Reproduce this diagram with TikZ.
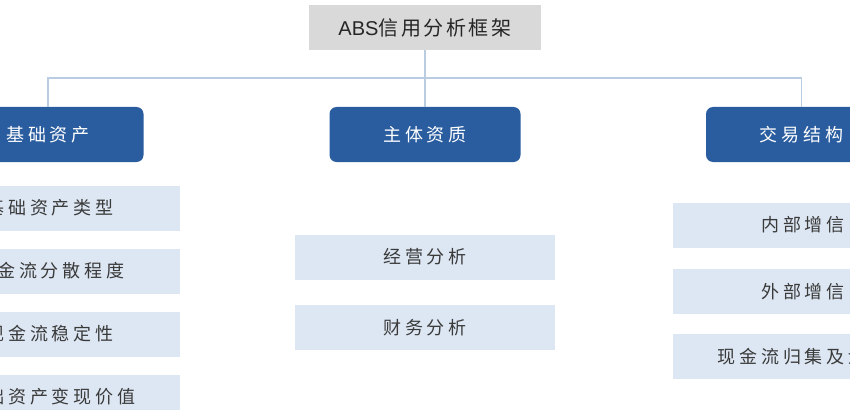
\documentclass[tikz,border=0pt]{standalone}
\usepackage{fontspec}
\setmainfont{Liberation Sans}
\newfontfamily\cjk[LetterSpace=22]{Noto Sans CJK SC}
\newfontfamily\cjktitle[LetterSpace=13]{Noto Sans CJK SC}
\usepackage{xcolor}
\usepackage{tikz}
\usetikzlibrary{positioning,calc}

\definecolor{headgray}{HTML}{D9D9D9}
\definecolor{mainblue}{HTML}{2A5D9F}
\definecolor{subblue}{HTML}{DDE7F3}
\definecolor{linkblue}{HTML}{B9CCE1}
\definecolor{textgray}{HTML}{3A3A3A}

\begin{document}
\begin{tikzpicture}[
    % GLOBAL CFG
    x=1pt, y=-1pt,
    % Styles
    head/.style={% For the title box
        rectangle,
        fill=headgray,
        minimum width=232pt,
        minimum height=45pt,
        inner sep=0pt,
        text=black!85,
        font=\fontsize{20}{22}\selectfont,
        },
    branch/.style={% For the three blue boxes
        rectangle,
        rounded corners=7pt,
        fill=mainblue,
        minimum width=191pt,
        minimum height=55pt,
        inner sep=0pt,
        text=white,
        font=\cjk\fontsize{18}{20}\selectfont,
        },
    leaf/.style={% For the light items
        rectangle,
        fill=subblue,
        minimum width=260pt,
        minimum height=45pt,
        inner sep=0pt,
        text=textgray,
        font=\cjk\fontsize{18}{20}\selectfont,
        },
    link/.style={% Connectors
        draw=linkblue,
        line width=1.5pt,
        },
    ]

    % Frame of the picture
    \useasboundingbox (0,0) rectangle (850,409);
    \clip (0,0) rectangle (850,409);
    \fill[white] (0,0) rectangle (850,409);

    % Title
    \node [head] (abs) at (425,27.5) {ABS{\cjktitle 信用分析框架}};

    % Branches
    \node [branch] (jczc) at (48,134.5) {基础资产};
    \node [branch] (ztzz) at (425,134.5) {主体资质};
    \node [branch] (jyjg) at (801.5,134.5) {交易结构};

    % Connectors
    \coordinate (bus) at (425,78);
    \draw [link] (abs) -- (ztzz);
    \draw [link] (jczc.north) |- (bus) -| (jyjg.north);

    % Items under the first branch
    \node [leaf] (a1) at (50,208) {基础资产类型};
    \node [leaf] (a2) at (50,271) {现金流分散程度};
    \node [leaf] (a3) at (50,334) {现金流稳定性};
    \node [leaf] (a4) at (50,397) {基础资产变现价值};

    % Items under the second branch
    \node [leaf] (b1) at (425,257) {经营分析};
    \node [leaf] (b2) at (425,327.5) {财务分析};

    % Items under the third branch
    \node [leaf] (c1) at (803,225) {内部增信};
    \node [leaf] (c2) at (803,291.5) {外部增信};
    \node [leaf] (c3) at (803,356.5) {现金流归集及划转};

\end{tikzpicture}
\end{document}
